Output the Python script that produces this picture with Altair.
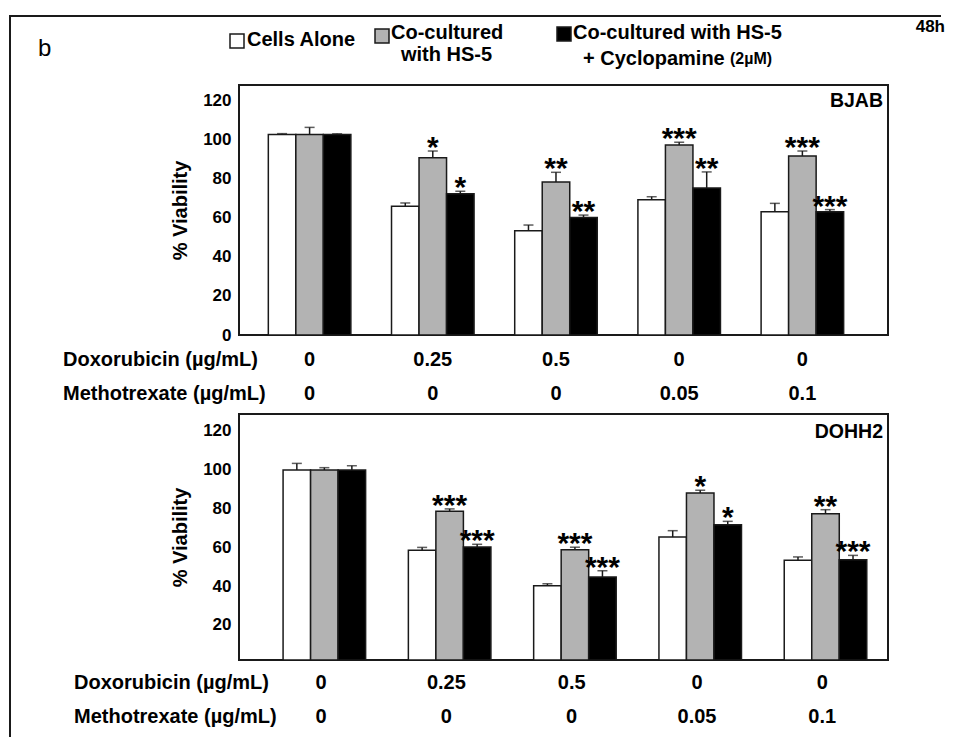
import altair as alt
import pandas as pd

# ---------------- data ----------------
series = ["Cells Alone", "Co-cultured with HS-5", "Co-cultured with HS-5 + Cyclopamine (2µM)"]
groups = ["G1", "G2", "G3", "G4", "G5"]
doxorubicin = ["0", "0.25", "0.5", "0", "0"]
methotrexate = ["0", "0", "0", "0.05", "0.1"]

bjab_alone = [102.6, 65.9, 53.4, 69.3, 63.1]
bjab_alone_err = [0.5, 1.7, 2.9, 1.5, 4.3]
bjab_cocult = [102.6, 90.8, 78.3, 97.3, 91.7]
bjab_cocult_err = [3.7, 3.4, 5.0, 1.4, 2.5]
bjab_cyclo = [102.6, 72.3, 60.1, 75.3, 63.1]
bjab_cyclo_err = [0.4, 1.3, 1.3, 8.2, 1.1]
bjab_sig_cocult = ["", "*", "**", "***", "***"]
bjab_sig_cyclo = ["", "*", "**", "**", "***"]

dohh2_alone = [99.7, 58.4, 40.2, 65.2, 53.3]
dohh2_alone_err = [3.4, 1.5, 1.0, 3.3, 1.7]
dohh2_cocult = [99.7, 78.5, 58.7, 87.9, 77.2]
dohh2_cocult_err = [1.2, 1.2, 1.3, 1.4, 2.1]
dohh2_cyclo = [99.7, 60.1, 44.7, 71.6, 53.6]
dohh2_cyclo_err = [2.2, 1.4, 3.2, 1.7, 2.2]
dohh2_sig_cocult = ["", "***", "***", "*", "**"]
dohh2_sig_cyclo = ["", "***", "***", "*", "***"]

yticks_bjab = [0, 20, 40, 60, 80, 100, 120]
yticks_dohh2 = [20, 40, 60, 80, 100, 120]

# ---------------- style / layout ----------------
FONT = "Liberation Sans, Arial, Helvetica, sans-serif"
INK = "#1a1a1a"
FILLS = ["#ffffff", "#b3b3b3", "#000000"]
W = 649


def build_df(vals, errs, sigs):
    rows = []
    for si, s in enumerate(series):
        for gi, g in enumerate(groups):
            v = vals[si][gi]
            e = errs[si][gi]
            rows.append(dict(group=g, series=s, value=v, upper=v + e, sig=sigs[si][gi]))
    return pd.DataFrame(rows)


def one():
    return pd.DataFrame({"k": [0]})


def label(text, x, y, size=20, weight="bold", align="left", baseline="middle"):
    return alt.Chart(one()).mark_text(
        font=FONT, fontSize=size, fontWeight=weight, align=align, baseline=baseline, color="black"
    ).encode(x=alt.value(x), y=alt.value(y), text=alt.value(text))


def box(x1, x2, y1, y2, fill, stroke=INK, sw=1.5, opacity=1):
    return alt.Chart(one()).mark_rect(
        fill=fill, stroke=stroke, strokeWidth=sw, opacity=opacity
    ).encode(x=alt.value(x1), x2=alt.value(x2), y=alt.value(y1), y2=alt.value(y2))


def panel(df, name, name_y, ydomain, yticks, height, xpad, rows_y, label_x, extra=()):
    xscale = alt.Scale(domain=groups, paddingInner=xpad[0], paddingOuter=xpad[1], align=xpad[2])
    xenc = alt.X("group:N", scale=xscale, axis=None)
    xoff = alt.XOffset("series:N", scale=alt.Scale(domain=series, paddingInner=0, paddingOuter=0))
    yscale = alt.Scale(domain=ydomain, zero=False, nice=False)
    yaxis = alt.Axis(
        values=yticks, title="% Viability", ticks=False, domain=False, grid=False,
        labelFont=FONT, labelFontSize=17, labelFontWeight="bold", labelColor="black",
        labelPadding=8, titleFont=FONT, titleFontSize=20, titleFontWeight="bold",
        titleColor="black", titlePadding=12,
    )
    base = alt.Chart(df)

    bars = base.mark_bar(stroke=INK, strokeWidth=1.5).encode(
        x=xenc,
        xOffset=xoff,
        y=alt.Y("value:Q", scale=yscale, axis=yaxis, title="% Viability"),
        y2=alt.datum(ydomain[0]),
        fill=alt.Fill("series:N", scale=alt.Scale(domain=series, range=FILLS), legend=None),
    )
    err = base.mark_rule(color=INK, strokeWidth=1.5).encode(
        x=xenc, xOffset=xoff,
        y=alt.Y("value:Q", scale=yscale, axis=yaxis, title="% Viability"), y2="upper:Q",
    )
    caps = base.mark_tick(color=INK, thickness=1.5, size=10, orient="horizontal").encode(
        x=xenc, xOffset=xoff, y=alt.Y("upper:Q", scale=yscale, axis=yaxis, title="% Viability"),
    )
    stars = base.transform_filter("datum.sig != ''").mark_text(
        font=FONT, fontSize=30, fontWeight="bold", baseline="alphabetic", dy=6, color="black"
    ).encode(
        x=xenc, xOffset=xoff,
        y=alt.Y("upper:Q", scale=yscale, axis=yaxis, title="% Viability"),
        text="sig:N",
    )

    tdf = pd.DataFrame({"group": groups, "dox": doxorubicin, "mtx": methotrexate})
    dox_t = alt.Chart(tdf).mark_text(
        font=FONT, fontSize=20, fontWeight="bold", baseline="middle", color="black"
    ).encode(x=xenc, y=alt.value(height + rows_y[0]), text="dox:N")
    mtx_t = alt.Chart(tdf).mark_text(
        font=FONT, fontSize=20, fontWeight="bold", baseline="middle", color="black"
    ).encode(x=xenc, y=alt.value(height + rows_y[1]), text="mtx:N")

    layers = [
        bars, err, caps, stars, dox_t, mtx_t,
        label("Doxorubicin (µg/mL)", label_x, height + rows_y[0]),
        label("Methotrexate (µg/mL)", label_x, height + rows_y[1]),
        label(name, W - 5, name_y, size=19.5, align="right"),
    ]
    layers += list(extra)
    return alt.layer(*layers).properties(width=W, height=height)


top_df = build_df(
    [bjab_alone, bjab_cocult, bjab_cyclo],
    [bjab_alone_err, bjab_cocult_err, bjab_cyclo_err],
    [[""] * 5, bjab_sig_cocult, bjab_sig_cyclo],
)
bot_df = build_df(
    [dohh2_alone, dohh2_cocult, dohh2_cyclo],
    [dohh2_alone_err, dohh2_cocult_err, dohh2_cyclo_err],
    [[""] * 5, dohh2_sig_cocult, dohh2_sig_cyclo],
)

# outer frame + header texts (drawn with the top panel)
header = [
    box(-230, -229, -76, -75, "white", stroke="white", sw=0, opacity=0),
    box(-230, -228, -70, 652, INK, stroke=INK, sw=0),
    box(-230, 702, -70, -68, INK, stroke=INK, sw=0),
    label("b", -201, -36, size=24, weight="normal"),
    box(-9, 5, -51, -37, FILLS[0]),
    label("Cells Alone", 8, -45),
    box(136, 150, -56, -42, FILLS[1]),
    label("Co-cultured", 152, -52),
    label("with HS-5", 162, -30),
    box(318, 332, -58, -44, FILLS[2]),
    label("Co-cultured with HS-5", 334, -52),
    label("+ Cyclopamine", 344, -26),
    label("(2µM)", 491, -26, size=16),
    label("48h", 706, -58, size=17, align="right"),
]

top = panel(top_df, "BJAB", 16, [0, 128], yticks_bjab, 250,
            (0.330, 0.299, 0.398), (25, 59), -176, header)
bottom = panel(bot_df, "DOHH2", 18, [2, 128.5], yticks_dohh2, 246,
               (0.393, 0.2865, 0.614), (23, 57), -165)

chart = alt.vconcat(top, bottom, spacing=79, bounds="flush").properties(
    padding=0, background="white"
).configure_view(stroke=INK, strokeWidth=2)

chart.save("out.html", embed_options={"renderer": "svg", "actions": False})
